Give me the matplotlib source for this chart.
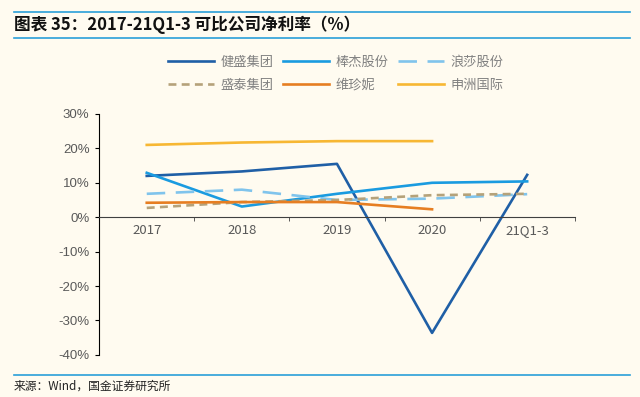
import numpy as np
import matplotlib
matplotlib.use('Agg')
import matplotlib.pyplot as plt
from matplotlib.lines import Line2D

plt.rcParams['font.family'] = ['Noto Sans CJK SC', 'DejaVu Sans']

cats = ["2017", "2018", "2019", "2020", "21Q1-3"]
jiansheng = [12.0, 13.3, 15.5, -33.6, 12.3]
bangjie = [12.9, 3.1, 6.8, 10.0, 10.4]
langsha = [6.8, 8.0, 5.0, 5.4, 6.7]
shengtai = [2.7, 4.4, 5.0, 6.4, 6.8]
weizhenni = [4.2, 4.4, 4.4, 2.3]
shenzhou = [21.0, 21.7, 22.1, 22.1]

bg = "#fffbf0"
fig = plt.figure(figsize=(6.4, 3.97), dpi=100, facecolor=bg)
ax = fig.add_axes([0.155, 0.106, 0.743, 0.607], facecolor=bg)

x = np.arange(len(cats))
l1, = ax.plot(x, jiansheng, color="#1f5fa6", lw=1.9, label="健盛集团")
l2, = ax.plot(x, bangjie, color="#1a9be0", lw=1.9, label="棒杰股份")
l3, = ax.plot(x, langsha, color="#80c4ec", lw=1.9, dashes=(7, 4), label="浪莎股份")
l4, = ax.plot(x, shengtai, color="#b5a27a", lw=1.9, dashes=(3, 2), label="盛泰集团")
l5, = ax.plot(x[:4], weizhenni, color="#e67e22", lw=1.9, label="维珍妮")
l6, = ax.plot(x[:4], shenzhou, color="#f7b733", lw=1.9, label="申洲国际")

ax.set_xlim(-0.5, 4.5)
ax.set_ylim(-40, 30)
ax.set_yticks(np.arange(-40, 31, 10))
ax.set_yticklabels([f"{v}%" for v in range(-40, 31, 10)], family="Liberation Sans")
ax.set_xticks(x)
ax.set_xticklabels(cats, family="Liberation Sans")
ax.set_xticks(np.arange(0.5, 5, 1), minor=True)
ax.tick_params(axis='x', which='major', length=0, pad=5, labelsize=9.5, labelcolor="#595959")
ax.tick_params(axis='x', which='minor', length=3, direction='out', color="#404040")
ax.tick_params(axis='y', length=3, direction='out', labelsize=9.5, labelcolor="#595959", pad=4)
for s in ['top', 'right']:
    ax.spines[s].set_visible(False)
ax.spines['bottom'].set_position(('data', 0))
ax.spines['bottom'].set_color("#404040")
ax.spines['left'].set_color("#000000")

fig.legend([l1, l4, l2, l5, l3, l6],
           [h.get_label() for h in [l1, l4, l2, l5, l3, l6]],
           ncol=3, loc='center', bbox_to_anchor=(0.525, 0.814), frameon=False,
           fontsize=9.5, labelcolor="#808080", handlelength=3.5, columnspacing=0.7,
           handletextpad=0.5, labelspacing=0.75)

# title and rules
fig.add_artist(Line2D([0.022, 0.984], [0.969, 0.969], color="#2a9fd8", lw=1.2))
fig.add_artist(Line2D([0.022, 0.984], [0.904, 0.904], color="#2a9fd8", lw=1.2))
fig.text(0.022, 0.937, "图表 35：2017-21Q1-3 可比公司净利率（%）", fontsize=12,
         fontweight='bold', style='italic', va='center', ha='left', color="#111111")
fig.add_artist(Line2D([0.022, 0.984], [0.055, 0.055], color="#2a9fd8", lw=1.2))
fig.text(0.022, 0.028, "来源：Wind，国金证券研究所", fontsize=8.5, va='center', ha='left', color="#222222")

fig.savefig("out.png", dpi=100, facecolor=bg)
